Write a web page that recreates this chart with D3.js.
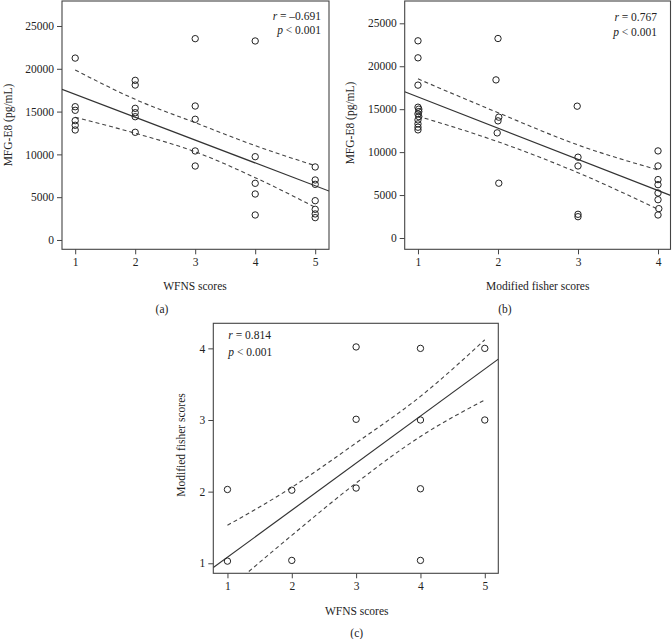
<!DOCTYPE html>
<html>
<head>
<meta charset="utf-8">
<script src="https://cdn.jsdelivr.net/npm/d3@7"></script>
<style>
  html, body { margin: 0; padding: 0; background: #fff; }
  svg text { font-family: "Liberation Serif", "DejaVu Serif", serif; fill: #222; }
</style>
</head>
<body>
<svg id="chart" width="672" height="639"></svg>
<script>
// ---------- Data ----------
// Panel (a): WFNS scores vs MFG-E8
const aWFNS = [1,1,1,1,1,1, 2,2,2,2,2,2, 3,3,3,3,3, 4,4,4,4,4, 5,5,5,5,5,5,5];
const aMFG  = [21250,15570,15150,13940,13400,12850,
               18650,18100,15380,14870,14400,12580,
               23520,15650,14100,10400,8640,
               23250,9730,6620,5370,2920,
               8530,7010,6500,4590,3580,3040,2610];
const aFit = { intercept: 19680, slope: -2670 };
const aCIx = [1, 2, 3, 4, 5];
const aCIupper = [19860, 16430, 13700, 11020, 8680];
const aCIlower = [14330, 12470, 10300, 7280, 3820];
const aStats = ["–0.691", "0.001"];

// Panel (b): Modified fisher scores vs MFG-E8
const bFisher = [1,1,1,1,1.01,1.01,1,1.01,1,1,1,1,
                 2,1.975,2.01,2,1.99,2.01,
                 2.99,3,3,3,3,
                 4,4,4,4,4,4,4.01,4];
const bMFG = [22960,20980,17800,15230,15000,14720,14450,14140,13750,13290,12900,12590,
              23230,18410,14070,13640,12240,6380,
              15350,9410,8390,2760,2480,
              10140,8390,6800,6210,5240,4460,3420,2680];
const bFit = { intercept: 20050, slope: -3630 };
const bCIx = [1, 2, 3, 4];
const bCIupper = [18530, 14590, 10830, 7930];
const bCIlower = [14190, 11210, 7600, 3350];
const bStats = ["0.767", "0.001"];

// Panel (c): WFNS scores vs Modified fisher scores
const cWFNS   = [1, 1, 2, 2, 3, 3, 3, 4, 4, 4, 4, 5, 5];
const cFisher = [1.03, 2.03, 1.04, 2.02, 4.02, 3.01, 2.05, 4.0, 3.0, 2.04, 1.04, 4.0, 3.0];
const cFit = { intercept: 0.427, slope: 0.657 };
const cCIx = [1, 2, 3, 4, 5];
const cCIupper = [1.53, 2.06, 2.68, 3.33, 4.12];
const cCIlower = [0.63, 1.39, 2.12, 2.77, 3.28];
const cStats = ["0.814", "0.001"];

const wfnsTicks = [1, 2, 3, 4, 5];
const fisherTicks = [1, 2, 3, 4];
const mfgTicks = [0, 5000, 10000, 15000, 20000, 25000];

// ---------- Drawing ----------
const svg = d3.select("#chart");
const FONT = 11.5;

function panel(cfg) {
  const g = svg.append("g");
  const x = d3.scaleLinear().domain(cfg.xDomain).range([cfg.left, cfg.right]);
  const y = d3.scaleLinear().domain(cfg.yDomain).range([cfg.bottom, cfg.top]);

  const clipId = "clip-" + cfg.id;
  svg.append("defs").append("clipPath").attr("id", clipId)
    .append("rect").attr("x", cfg.left).attr("y", cfg.top)
    .attr("width", cfg.right - cfg.left).attr("height", cfg.bottom - cfg.top);

  // axes
  const xa = g.append("g").attr("transform", `translate(0,${cfg.bottom})`)
    .call(d3.axisBottom(x).tickValues(cfg.xTicks).tickFormat(d3.format("d")).tickSize(5).tickPadding(4));
  const ya = g.append("g").attr("transform", `translate(${cfg.left},0)`)
    .call(d3.axisLeft(y).tickValues(cfg.yTicks).tickFormat(d => String(d)).tickSize(5).tickPadding(3));
  [xa, ya].forEach(a => {
    a.select(".domain").remove();
    a.selectAll("line").attr("stroke", "#444");
    a.selectAll("text").attr("font-size", FONT).attr("fill", "#222")
      .style("font-family", '"Liberation Serif", serif');
  });

  // frame
  g.append("rect").attr("x", cfg.left).attr("y", cfg.top)
    .attr("width", cfg.right - cfg.left).attr("height", cfg.bottom - cfg.top)
    .attr("fill", "none").attr("stroke", "#444").attr("stroke-width", 1.1);

  const plot = g.append("g").attr("clip-path", `url(#${clipId})`);

  // regression line
  const xd = cfg.xDomain;
  plot.append("line")
    .attr("x1", x(xd[0])).attr("y1", y(cfg.fit.intercept + cfg.fit.slope * xd[0]))
    .attr("x2", x(xd[1])).attr("y2", y(cfg.fit.intercept + cfg.fit.slope * xd[1]))
    .attr("stroke", "#333").attr("stroke-width", 1.2);

  // confidence band curves
  const ln = d3.line().x(d => x(d[0])).y(d => y(d[1])).curve(d3.curveMonotoneX);
  [cfg.ciUpper, cfg.ciLower].forEach(arr => {
    plot.append("path").datum(cfg.ciX.map((v, i) => [v, arr[i]]))
      .attr("d", ln).attr("fill", "none").attr("stroke", "#444")
      .attr("stroke-width", 1.1).attr("stroke-dasharray", "4,3");
  });

  // points
  plot.selectAll("circle.pt").data(cfg.xs.map((v, i) => [v, cfg.ys[i]]))
    .join("circle").attr("class", "pt")
    .attr("cx", d => x(d[0])).attr("cy", d => y(d[1])).attr("r", 3.2)
    .attr("fill", "none").attr("stroke", "#222").attr("stroke-width", 1);

  // stats text
  const st = g.append("g").attr("font-size", FONT);
  const t1 = st.append("text").attr("x", cfg.statX).attr("y", cfg.statY1).attr("text-anchor", cfg.statAnchor);
  t1.append("tspan").attr("font-style", "italic").text("r");
  t1.append("tspan").text(" = " + cfg.stats[0]);
  const t2 = st.append("text").attr("x", cfg.statX).attr("y", cfg.statY2).attr("text-anchor", cfg.statAnchor);
  t2.append("tspan").attr("font-style", "italic").text("p");
  t2.append("tspan").text(" < " + cfg.stats[1]);

  // axis titles
  g.append("text").attr("x", cfg.xTitlePos[0]).attr("y", cfg.xTitlePos[1])
    .attr("text-anchor", "middle").attr("font-size", FONT).text(cfg.xTitle);
  g.append("text").attr("transform", `translate(${cfg.yTitlePos[0]},${cfg.yTitlePos[1]}) rotate(-90)`)
    .attr("text-anchor", "middle").attr("font-size", FONT).text(cfg.yTitle);
  g.append("text").attr("x", cfg.labelPos[0]).attr("y", cfg.labelPos[1])
    .attr("text-anchor", "middle").attr("font-size", FONT).text(cfg.label);
}

panel({
  id: "a", left: 62, right: 329, top: 1, bottom: 249.3,
  xDomain: [0.78, 5.23], yDomain: [-1090, 27920],
  xTicks: wfnsTicks, yTicks: mfgTicks,
  xs: aWFNS, ys: aMFG, fit: aFit,
  ciX: aCIx, ciUpper: aCIupper, ciLower: aCIlower,
  stats: aStats, statX: 321, statY1: 19.5, statY2: 34, statAnchor: "end",
  xTitle: "WFNS scores", xTitlePos: [195, 290],
  yTitle: "MFG-E8 (pg/mL)", yTitlePos: [12, 125],
  label: "(a)", labelPos: [162, 313]
});

panel({
  id: "b", left: 404.7, right: 670.5, top: 1, bottom: 249.3,
  xDomain: [0.834, 4.156], yDomain: [-1316, 27597],
  xTicks: fisherTicks, yTicks: mfgTicks,
  xs: bFisher, ys: bMFG, fit: bFit,
  ciX: bCIx, ciUpper: bCIupper, ciLower: bCIlower,
  stats: bStats, statX: 657, statY1: 21, statY2: 35.5, statAnchor: "end",
  xTitle: "Modified fisher scores", xTitlePos: [537.7, 290],
  yTitle: "MFG-E8 (pg/mL)", yTitlePos: [354, 123],
  label: "(b)", labelPos: [505, 313]
});

panel({
  id: "c", left: 213.3, right: 498.3, top: 323.3, bottom: 573.3,
  xDomain: [0.78, 5.21], yDomain: [0.86, 4.35],
  xTicks: wfnsTicks, yTicks: fisherTicks,
  xs: cWFNS, ys: cFisher, fit: cFit,
  ciX: cCIx, ciUpper: cCIupper, ciLower: cCIlower,
  stats: cStats, statX: 228.3, statY1: 339, statY2: 355.5, statAnchor: "start",
  xTitle: "WFNS scores", xTitlePos: [356.7, 615],
  yTitle: "Modified fisher scores", yTitlePos: [185, 445],
  label: "(c)", labelPos: [356.7, 637]
});
</script>
</body>
</html>
